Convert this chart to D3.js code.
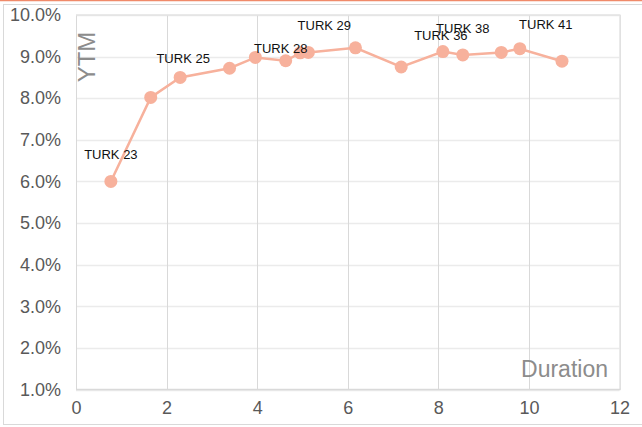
<!DOCTYPE html>
<html>
<head>
<meta charset="utf-8">
<script src="https://cdn.jsdelivr.net/npm/d3@7"></script>
<style>
  html, body { margin: 0; padding: 0; background: #fff; }
  svg { display: block; font-family: "Liberation Sans", Arial, sans-serif; }
</style>
</head>
<body>
<svg id="chart" width="642" height="427"></svg>
<script>
// Turkish eurobond curve: yield to maturity vs. modified duration
const duration = [0.77, 1.65, 2.30, 3.39, 3.96, 4.63, 4.95, 5.13, 6.17, 7.18, 8.10, 8.54, 9.39, 9.80, 10.73];
const ytm      = [6.00, 8.02, 8.50, 8.72, 8.98, 8.90, 9.09, 9.10, 9.21, 8.75, 9.12, 9.04, 9.10, 9.19, 8.89];
const bondLabels = ["TURK 23", "", "TURK 25", "", "", "TURK 28", "", "TURK 29", "", "", "TURK 36", "TURK 38", "", "TURK 41", ""];
const xTicks = [0, 2, 4, 6, 8, 10, 12];
const yTicks = [1, 2, 3, 4, 5, 6, 7, 8, 9, 10];

// label nudges (px) so neighbouring names do not sit on top of each other
const labelNudge = {
  "TURK 23": [0, -22], "TURK 25": [3, -14], "TURK 28": [-5, -8],
  "TURK 29": [16, -22], "TURK 36": [-2, -12], "TURK 38": [0, -22], "TURK 41": [26, -20]
};

const svg = d3.select("#chart");
const W = 642, H = 427;
const plot = { left: 76, right: 619.5, top: 15, bottom: 389.5 };

const x = d3.scaleLinear().domain([0, 12]).range([plot.left, plot.right]);
const y = d3.scaleLinear().domain([1, 10]).range([plot.bottom, plot.top]);

// outer frame
svg.append("line").attr("x1", 0).attr("x2", W).attr("y1", 0.5).attr("y2", 0.5)
  .attr("stroke", "#f08a6a").attr("stroke-width", 1.5);
svg.append("rect").attr("x", 3.5).attr("y", 4.5).attr("width", W + 10).attr("height", 420)
  .attr("fill", "none").attr("stroke", "#d9d9d9").attr("stroke-width", 1);

// horizontal gridlines
svg.append("g").selectAll("line").data(yTicks).join("line")
  .attr("x1", plot.left).attr("x2", plot.right)
  .attr("y1", d => Math.round(y(d)) + 0.5).attr("y2", d => Math.round(y(d)) + 0.5)
  .attr("stroke", "#ebebeb").attr("stroke-width", 1.5);

// vertical gridlines
svg.append("g").selectAll("line").data(xTicks).join("line")
  .attr("x1", d => Math.round(x(d)) + 0.5).attr("x2", d => Math.round(x(d)) + 0.5)
  .attr("y1", plot.top).attr("y2", plot.bottom)
  .attr("stroke", "#d9d9d9").attr("stroke-width", 1);

// plot-area outline and x axis line
svg.append("line").attr("x1", plot.left).attr("x2", plot.right + 1)
  .attr("y1", plot.top).attr("y2", plot.top).attr("stroke", "#e3e3e3").attr("stroke-width", 1.5);
svg.append("line").attr("x1", plot.right + 0.5).attr("x2", plot.right + 0.5)
  .attr("y1", plot.top).attr("y2", plot.bottom).attr("stroke", "#e3e3e3").attr("stroke-width", 1.5);
svg.append("line").attr("x1", plot.left).attr("x2", plot.right + 1)
  .attr("y1", plot.bottom).attr("y2", plot.bottom).attr("stroke", "#d9d9d9").attr("stroke-width", 1.5);

// axes (labels only)
const yAxis = d3.axisLeft(y).tickValues(yTicks).tickSize(0).tickPadding(15)
  .tickFormat(d => d.toFixed(1) + "%");
svg.append("g").attr("transform", `translate(${plot.left},0)`).call(yAxis)
  .call(g => g.select(".domain").remove())
  .call(g => g.selectAll("text").attr("fill", "#595959").attr("font-size", 18)
    .attr("font-family", "Liberation Sans, Arial, sans-serif"));

const xAxis = d3.axisBottom(x).tickValues(xTicks).tickSize(0).tickPadding(12)
  .tickFormat(d3.format("d"));
svg.append("g").attr("transform", `translate(0,${plot.bottom})`).call(xAxis)
  .call(g => g.select(".domain").remove())
  .call(g => g.selectAll("text").attr("fill", "#595959").attr("font-size", 18)
    .attr("font-family", "Liberation Sans, Arial, sans-serif"));

// axis titles inside the plot area
svg.append("text").attr("transform", `translate(95,57) rotate(-90)`)
  .attr("text-anchor", "middle").attr("fill", "#8c8c8c").attr("font-size", 24)
  .text("YTM");
svg.append("text").attr("x", 608).attr("y", 377)
  .attr("text-anchor", "end").attr("fill", "#8c8c8c").attr("font-size", 23)
  .text("Duration");

// curve
const pts = duration.map((d, i) => ({ d, v: ytm[i], label: bondLabels[i] }));
svg.append("path").datum(pts)
  .attr("fill", "none").attr("stroke", "#f7b19c").attr("stroke-width", 2.5)
  .attr("d", d3.line().x(p => x(p.d)).y(p => y(p.v)));

svg.append("g").selectAll("circle").data(pts).join("circle")
  .attr("cx", p => x(p.d)).attr("cy", p => y(p.v)).attr("r", 6.5)
  .attr("fill", "#f7b19c");

// bond names
svg.append("g").selectAll("text").data(pts.filter(p => p.label)).join("text")
  .attr("x", p => x(p.d) + labelNudge[p.label][0])
  .attr("y", p => y(p.v) + labelNudge[p.label][1])
  .attr("text-anchor", "middle").attr("font-size", 13).attr("fill", "#111")
  .text(p => p.label);
</script>
</body>
</html>
